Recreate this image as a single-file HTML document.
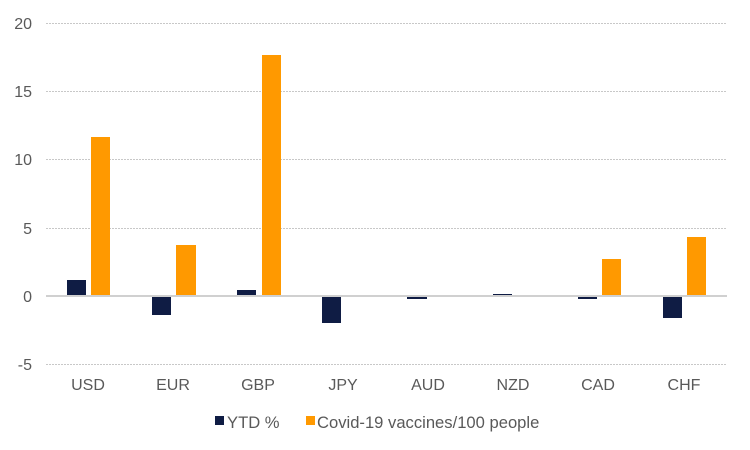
<!DOCTYPE html>
<html><head><meta charset="utf-8"><style>
html,body{margin:0;padding:0;background:#fff;}
svg{display:block;font-family:"Liberation Sans",Arial,sans-serif;}
</style></head><body>
<svg width="750" height="450" viewBox="0 0 750 450" xmlns="http://www.w3.org/2000/svg">
<g stroke="#c8c8c8" stroke-width="1" stroke-dasharray="2,1">
<line x1="46" x2="727" y1="23.5" y2="23.5"/>
<line x1="46" x2="727" y1="91.5" y2="91.5"/>
<line x1="46" x2="727" y1="159.5" y2="159.5"/>
<line x1="46" x2="727" y1="228.5" y2="228.5"/>
<line x1="46" x2="727" y1="364.5" y2="364.5"/>
</g>
<g fill="#595959" font-size="16" text-anchor="end">
<text x="32" y="29">20</text>
<text x="32" y="97">15</text>
<text x="32" y="165">10</text>
<text x="32" y="234">5</text>
<text x="32" y="302">0</text>
<text x="32" y="370">-5</text>
</g>
<g fill="#0f1c44">
<rect x="67" y="280" width="19" height="16"/>
<rect x="152" y="296" width="19" height="19"/>
<rect x="237" y="290" width="19" height="6"/>
<rect x="322" y="296" width="19" height="27"/>
<rect x="407" y="296" width="20" height="3"/>
<rect x="493" y="294" width="19" height="2"/>
<rect x="578" y="296" width="19" height="3"/>
<rect x="663" y="296" width="19" height="22"/>
</g>
<g fill="#ff9900">
<rect x="91" y="137" width="19" height="159"/>
<rect x="176" y="245" width="20" height="51"/>
<rect x="262" y="55" width="19" height="241"/>
<rect x="602" y="259" width="19" height="37"/>
<rect x="687" y="237" width="19" height="59"/>
</g>
<line x1="46" x2="727" y1="296" y2="296" stroke="#d0d0d0" stroke-width="2"/>
<g fill="#595959" font-size="16" text-anchor="middle">
<text x="88" y="390">USD</text>
<text x="173" y="390">EUR</text>
<text x="258" y="390">GBP</text>
<text x="343" y="390">JPY</text>
<text x="428" y="390">AUD</text>
<text x="513" y="390">NZD</text>
<text x="598" y="390">CAD</text>
<text x="684" y="390">CHF</text>
</g>
<rect x="215" y="416" width="9" height="9" fill="#0f1c44"/>
<text x="227" y="428" fill="#595959" font-size="16.6">YTD %</text>
<rect x="306" y="416" width="9" height="9" fill="#ff9900"/>
<text x="317" y="428" fill="#595959" font-size="16.6">Covid-19 vaccines/100 people</text>
</svg>
</body></html>
